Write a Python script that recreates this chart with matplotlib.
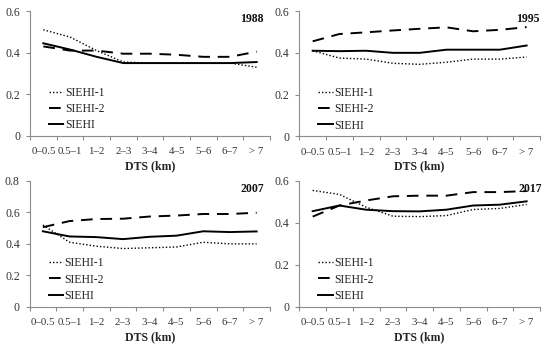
import matplotlib
matplotlib.use("Agg")
import matplotlib.pyplot as plt
import numpy as np

plt.rcParams['font.family'] = ['Liberation Serif', 'DejaVu Serif']

categories = ["0–0.5", "0.5–1", "1–2", "2–3", "3–4", "4–5", "5–6", "6–7", "> 7"]
series_names = ["SIEHI-1", "SIEHI-2", "SIEHI"]
years = ["1988", "1995", "2007", "2017"]

siehi1_1988 = [0.51, 0.475, 0.41, 0.355, 0.35, 0.35, 0.35, 0.35, 0.33]
siehi2_1988 = [0.43, 0.41, 0.41, 0.395, 0.395, 0.39, 0.38, 0.38, 0.405]
siehi_1988 = [0.445, 0.415, 0.38, 0.35, 0.35, 0.35, 0.35, 0.35, 0.355]

siehi1_1995 = [0.41, 0.375, 0.37, 0.35, 0.345, 0.355, 0.37, 0.37, 0.38]
siehi2_1995 = [0.455, 0.49, 0.498, 0.507, 0.515, 0.522, 0.503, 0.51, 0.523]
siehi_1995 = [0.41, 0.408, 0.41, 0.40, 0.40, 0.415, 0.415, 0.415, 0.435]

siehi1_2007 = [0.52, 0.41, 0.385, 0.37, 0.375, 0.38, 0.41, 0.40, 0.40]
siehi2_2007 = [0.506, 0.545, 0.558, 0.56, 0.574, 0.58, 0.59, 0.59, 0.598]
siehi_2007 = [0.48, 0.447, 0.443, 0.43, 0.445, 0.452, 0.48, 0.475, 0.479]

siehi1_2017 = [0.555, 0.536, 0.475, 0.432, 0.43, 0.435, 0.464, 0.469, 0.488]
siehi2_2017 = [0.43, 0.483, 0.507, 0.527, 0.53, 0.53, 0.547, 0.547, 0.552]
siehi_2017 = [0.456, 0.483, 0.463, 0.456, 0.455, 0.463, 0.483, 0.487, 0.503]

data = {
    "1988": (siehi1_1988, siehi2_1988, siehi_1988),
    "1995": (siehi1_1995, siehi2_1995, siehi_1995),
    "2007": (siehi1_2007, siehi2_2007, siehi_2007),
    "2017": (siehi1_2017, siehi2_2017, siehi_2017),
}
ymax = {"1988": 0.6, "1995": 0.6, "2007": 0.8, "2017": 0.6}
year_x = {"1988": 0.975, "1995": 1.0, "2007": 0.975, "2017": 1.01}

fig = plt.figure(figsize=(5.5, 3.48), dpi=100)
W, H = 550, 348
boxes = {
    "1988": (30, 11, 270, 136),
    "1995": (299.3, 11, 540, 136.5),
    "2007": (29.5, 181, 270, 306.7),
    "2017": (299.3, 181, 540, 306.7),
}
styles = [dict(linestyle=(0, (1, 1.5)), linewidth=1.0),
          dict(linestyle=(0, (6, 4)), linewidth=1.4),
          dict(linestyle='-', linewidth=1.4)]

FS = 8.5
axis_color = "#8c8c8c"
x = np.arange(len(categories))
for yr in years:
    x0, y0, x1, y1 = boxes[yr]
    ax = fig.add_axes([x0 / W, 1 - y1 / H, (x1 - x0) / W, (y1 - y0) / H])
    for vals, name, st in zip(data[yr], series_names, styles):
        ax.plot(x, vals, color="black", label=name, **st)
    ax.set_xlim(-0.5, len(categories) - 0.5)
    ax.set_ylim(0, ymax[yr])
    ax.set_yticks(np.arange(0, ymax[yr] + 0.001, 0.2))
    ax.set_yticklabels(["0"] + [f"{v:.1f}" for v in np.arange(0.2, ymax[yr] + 0.001, 0.2)])
    ax.set_xticks(np.arange(-0.5, len(categories), 1.0))
    ax.set_xticklabels([])
    ax.set_xticks(x, minor=True)
    ax.set_xticklabels(categories, minor=True)
    ax.tick_params(axis='x', which='minor', length=0, pad=8, labelsize=7.8, colors="#333333")
    ax.tick_params(axis='x', which='major', length=3, color=axis_color, width=0.8)
    ax.tick_params(axis='y', length=3, color=axis_color, width=0.8, labelsize=FS,
                   labelcolor="#333333", pad=4)
    for s in ["top", "right"]:
        ax.spines[s].set_visible(False)
    for s in ["left", "bottom"]:
        ax.spines[s].set_color(axis_color)
        ax.spines[s].set_linewidth(0.8)
    ax.set_xlabel("DTS (km)", fontweight="bold", fontsize=FS, labelpad=3, color="#222222")
    ax.text(year_x[yr], 0.985, yr, transform=ax.transAxes, ha="right", va="top",
            fontweight="bold", fontsize=FS, color="#111111")
    leg = ax.legend(loc="upper left", bbox_to_anchor=(0.06, 0.43), frameon=False,
                    fontsize=FS, handlelength=1.2, handletextpad=0.15,
                    labelspacing=0.35, borderaxespad=0)
    for t in leg.get_texts():
        t.set_color("#222222")

fig.savefig("out.png", dpi=100)
